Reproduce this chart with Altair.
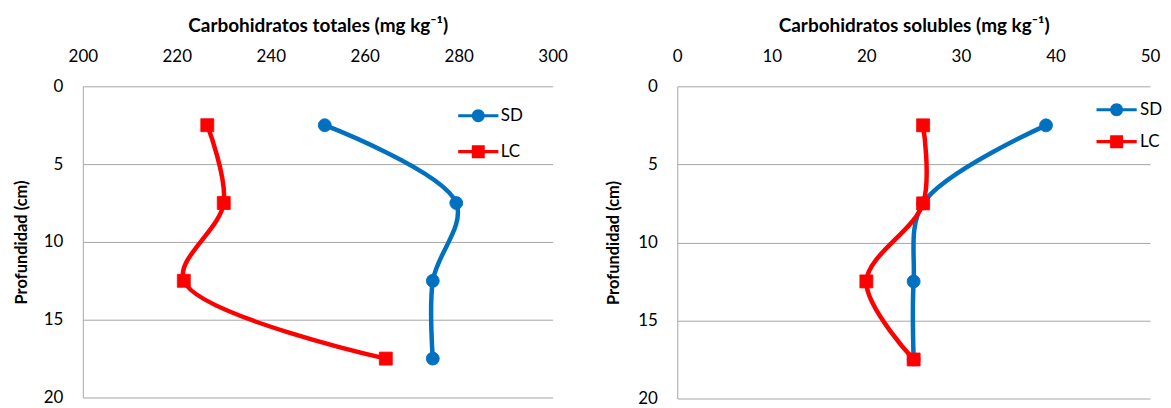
import altair as alt
import pandas as pd

# ---- data ----
depth = [2.5, 7.5, 12.5, 17.5]
series = ["SD", "LC"]
totales_sd = [251.5, 279.5, 274.5, 274.5]
totales_lc = [226.5, 230.0, 221.5, 264.5]
solubles_sd = [39.0, 26.0, 25.0, 25.0]
solubles_lc = [26.0, 26.0, 20.0, 25.0]
totales_ticks = [200, 220, 240, 260, 280, 300]
solubles_ticks = [0, 10, 20, 30, 40, 50]
depth_ticks = [0, 5, 10, 15, 20]

BLUE = "#0070C0"
RED = "#FF0000"
FONT = "Lato"

# legend symbols: line segment with the marker in the middle (unit box -1..1)
PATH_SD = "M-3.1,-0.24H3.1V0.24H-3.1Z M-1,0A1,1 0 1,1 1,0A1,1 0 1,1 -1,0Z"
PATH_LC = "M-3.1,-0.24H3.1V0.24H-3.1Z M-1,-1H1V1H-1Z"


def frame(sd, lc):
    rows = []
    for s, vals in zip(series, [sd, lc]):
        for d, v in zip(depth, vals):
            rows.append({"serie": s, "depth": d, "value": v})
    return pd.DataFrame(rows)


def panel(df, title, xdomain, xticks, w, h, legx, legy, rowpad, loff, ytp):
    base = alt.Chart(df)
    x = alt.X(
        "value:Q",
        scale=alt.Scale(domain=xdomain, nice=False, zero=False),
        axis=alt.Axis(orient="top", values=xticks, title=title, grid=False,
                      domain=False, ticks=False, labelPadding=21, labelFlush=False,
                      titlePadding=12, titleFontSize=19, format="d"),
    )
    y = alt.Y(
        "depth:Q",
        scale=alt.Scale(domain=[0, 20], reverse=True, nice=False, zero=False),
        axis=alt.Axis(values=depth_ticks, title="Profundidad (cm)", grid=True,
                      ticks=False, labelPadding=20, titlePadding=ytp, labelFlush=False,
                      titleFontSize=16.5, format="d"),
    )
    layers = []
    for s, col, shp in [("SD", BLUE, "circle"), ("LC", RED, "square")]:
        b = base.transform_filter(alt.datum.serie == s)
        layers.append(
            b.mark_line(color=col, strokeWidth=4.5, interpolate="catmull-rom")
            .encode(x=x, y=y, order="depth:Q")
        )
        layers.append(
            b.mark_point(shape=shp, filled=True, size=169, color=col, opacity=1,
                         stroke=col, strokeWidth=0.8)
            .encode(x=x, y=y)
        )
    leg = alt.Legend(title=None, orient="none", legendX=legx, legendY=legy,
                     symbolSize=169, symbolStrokeWidth=0, labelOffset=loff,
                     rowPadding=rowpad, labelFont=FONT, labelFontSize=17,
                     labelColor="black", padding=0)
    layers.append(
        base.transform_filter("datum.depth < 0")
        .mark_point(filled=True, opacity=1)
        .encode(
            color=alt.Color("serie:N", scale=alt.Scale(domain=series, range=[BLUE, RED]), legend=leg),
            shape=alt.Shape("serie:N", scale=alt.Scale(domain=series, range=[PATH_SD, PATH_LC]), legend=leg),
        )
    )
    return alt.layer(*layers).properties(width=w, height=h)


left = panel(frame(totales_sd, totales_lc), "Carbohidratos totales (mg kg\u207b\u00b9)",
             [200, 300], totales_ticks, 471, 312, 388, 21, 18, 14, 14)
right = panel(frame(solubles_sd, solubles_lc), "Carbohidratos solubles (mg kg\u207b\u00b9)",
              [0, 50], solubles_ticks, 474, 313, 432, 15, 14, 15, 16)

chart = (
    alt.hconcat(left, right, spacing=38)
    .resolve_scale(color="independent", shape="independent")
    .resolve_legend(color="independent", shape="independent")
    .properties(padding={"left": 5, "top": 8, "right": 0, "bottom": 0})
    .configure_view(stroke=None)
    .configure_axis(labelFont=FONT, titleFont=FONT, labelFontSize=17,
                    titleFontWeight="bold", labelColor="black",
                    titleColor="black", gridColor="#A6A6A6", domainColor="#A6A6A6",
                    gridWidth=1, domainWidth=1)
    .configure_legend(labelFont=FONT)
)

chart.save("out.html", embed_options={"renderer": "svg", "actions": False})
